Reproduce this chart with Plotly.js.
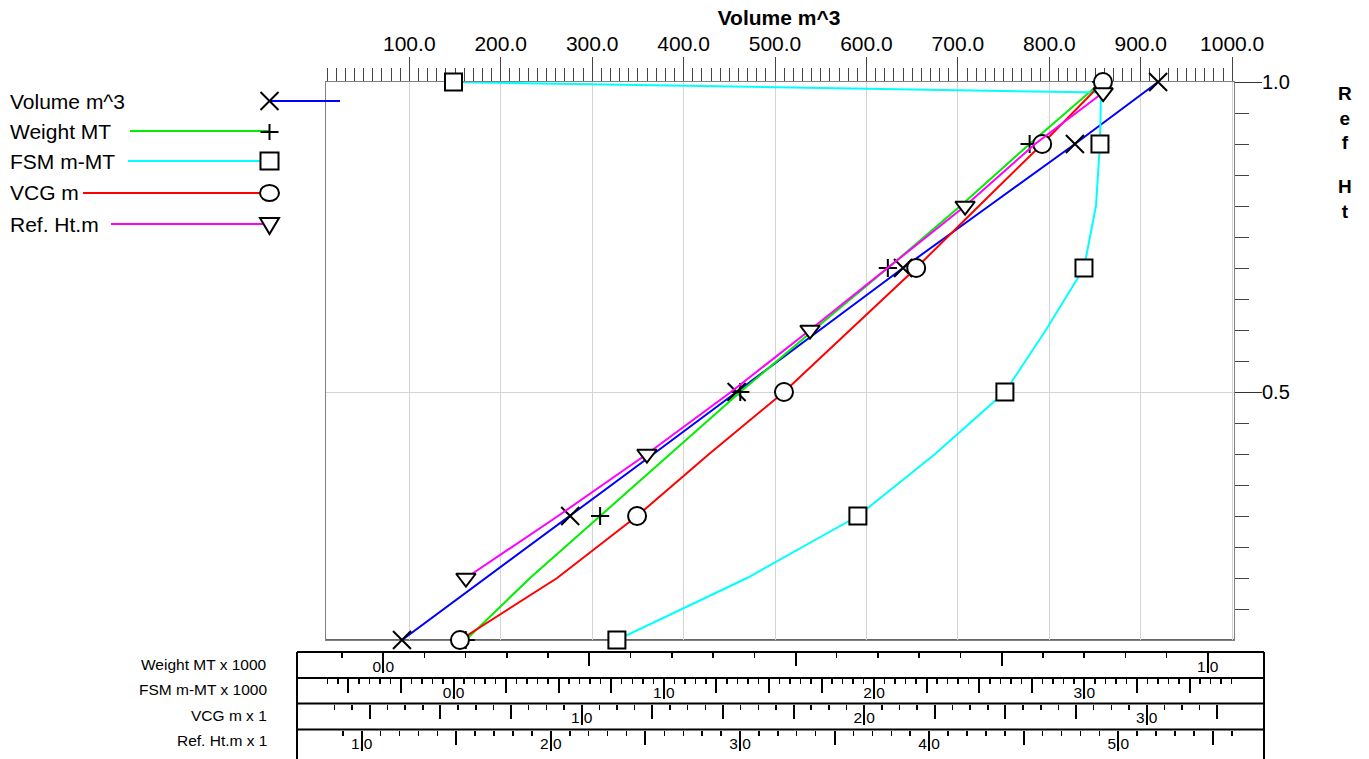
<!DOCTYPE html>
<html>
<head>
<meta charset="utf-8">
<script src="https://cdn.plot.ly/plotly-3.0.1.min.js"></script>
<style>
html,body{margin:0;padding:0;background:#fff;}
#chart{width:1369px;height:759px;}
</style>
</head>
<body>
<div id="chart"></div>
<script>
// ---------------- data ----------------
const seriesNames = ['Volume m^3', 'Weight MT', 'FSM m-MT', 'VCG m', 'Ref. Ht.m'];
const scaleNames = ['Weight MT x 1000', 'FSM m-MT x 1000', 'VCG m x 1', 'Ref. Ht.m x 1'];
const titleText = 'Volume m^3';
const yTitleTop = 'R<br>e<br>f';
const yTitleBottom = 'H<br>t';

// Ref Ht fraction (vertical axis)
const levels = [0.1, 0.2, 0.3, 0.4, 0.5, 0.6, 0.7, 0.8, 0.9, 1.0];
const fsmLevels = [0.1, 0.2, 0.3, 0.4, 0.5, 0.6, 0.7, 0.8, 0.9, 0.983, 1.0];
const refLevels = [0.2, 0.3, 0.4, 0.5, 0.6, 0.7, 0.8, 0.9, 0.983];

// series values in the units of their own scales
const volume = [92, 184, 276, 367, 458, 549, 640, 734, 828, 919];             // m^3
const weight = [0.100, 0.178, 0.263, 0.348, 0.433, 0.522, 0.612, 0.700, 0.784, 0.871]; // MT x 1000
const fsm    = [0.777, 1.396, 1.923, 2.290, 2.622, 2.817, 2.998, 3.055, 3.074, 3.079, 0.0]; // m-MT x 1000
const vcg    = [0.569, 0.913, 1.196, 1.451, 1.716, 1.950, 2.184, 2.406, 2.630, 2.845]; // m
const refHt  = [1.551, 2.038, 2.508, 2.952, 3.370, 3.777, 4.190, 4.560, 4.920]; // m

// ---------------- layout helpers ----------------
const W = 1369, H = 759;
const FONT = 'Liberation Sans, Arial, Helvetica, sans-serif';
const px = x => x / W;
const py = y => 1 - y / H;

const plotL = 326, plotR = 1234, plotT = 82, plotB = 640;

const series = [
  {name: seriesNames[0], x: volume, y: levels,    axis: 'x',  color: '#0000ff', symbol: 'x-thin',        size: 18, fill: '#000'},
  {name: seriesNames[1], x: weight, y: levels,    axis: 'x2', color: '#00ee00', symbol: 'cross-thin',    size: 13, fill: '#000'},
  {name: seriesNames[2], x: fsm,    y: fsmLevels, axis: 'x3', color: '#00ffff', symbol: 'square',        size: 17, fill: '#fff'},
  {name: seriesNames[3], x: vcg,    y: levels,    axis: 'x4', color: '#ff0000', symbol: 'circle',        size: 18, fill: '#fff'},
  {name: seriesNames[4], x: refHt,  y: refLevels, axis: 'x5', color: '#ff00ff', symbol: 'triangle-down', size: 17, fill: '#fff'}
];

const keep = (arr) => arr.filter((_, i) => i % 2 === 0 || i === arr.length - 1);

const traces = [];
series.forEach(s => traces.push({
  type: 'scatter', mode: 'lines', name: s.name, x: s.x, y: s.y,
  xaxis: s.axis, yaxis: 'y', line: {color: s.color, width: 2},
  showlegend: false, hoverinfo: 'skip'
}));
series.forEach(s => traces.push({
  type: 'scatter', mode: 'markers', name: s.name, x: keep(s.x), y: keep(s.y),
  xaxis: s.axis, yaxis: 'y', cliponaxis: false,
  marker: {symbol: s.symbol, size: s.size, color: s.fill, line: {color: '#000', width: 2}},
  showlegend: false, hoverinfo: 'skip'
}));
['x6', 'x7', 'x8', 'x9'].forEach(a => traces.push({
  type: 'scatter', mode: 'markers', x: [], y: [], xaxis: a, yaxis: 'y',
  showlegend: false, hoverinfo: 'skip'
}));

// y minor ticks every 0.05
const yMinor = [];
for (let k = 3; k <= 19; k++) { if (k !== 10) yMinor.push(+(k * 0.05).toFixed(2)); }

const layout = {
  width: W, height: H,
  margin: {l: 0, r: 0, t: 0, b: 0},
  paper_bgcolor: '#fff', plot_bgcolor: '#fff',
  font: {family: FONT, color: '#000'},
  showlegend: false,
  title: {text: '<b>' + titleText + '</b>', x: px(779), xanchor: 'center', xref: 'paper',
          y: py(18), yanchor: 'middle', yref: 'paper', font: {size: 21, family: FONT, color: '#000'}},
  xaxis: {
    domain: [px(plotL), px(plotR)], range: [8.9, 1002], side: 'top', anchor: 'y',
    tickmode: 'linear', tick0: 0, dtick: 100, tickformat: '.1f',
    ticks: 'outside', ticklen: 24, tickwidth: 1, tickcolor: '#444',
    minor: {tick0: 0, dtick: 10, ticks: 'outside', ticklen: 13, tickwidth: 1, tickcolor: '#444', showgrid: false},
    tickfont: {size: 21, color: '#000'}, ticklabelstandoff: -2,
    showgrid: true, gridcolor: '#d4d4d4', gridwidth: 1,
    showline: true, linecolor: '#808080', linewidth: 1, mirror: true,
    zeroline: false, layer: 'below traces', automargin: false, fixedrange: true
  },
  yaxis: {
    domain: [py(plotB), py(plotT)], range: [0.1, 1.0], side: 'right', anchor: 'x',
    tickmode: 'linear', tick0: 0, dtick: 0.5, tickformat: '.1f',
    ticks: 'outside', ticklen: 27, tickwidth: 1, tickcolor: '#333',
    minor: {tickmode: 'array', tickvals: yMinor, ticks: 'outside', ticklen: 14, tickwidth: 1, tickcolor: '#444', showgrid: false},
    tickfont: {size: 20, color: '#000'}, ticklabelstandoff: -4,
    showgrid: true, gridcolor: '#d4d4d4', gridwidth: 1,
    showline: true, linecolor: '#808080', linewidth: 1, mirror: true,
    zeroline: false, layer: 'below traces', automargin: false, fixedrange: true
  },
  shapes: [],
  annotations: []
};

// bottom scale strips (each an x axis overlaying the main one)
const strips = [
  {axis: 'xaxis2', label: 'xaxis6', range: [-0.0695, 1.0319], major: 0.25, minor: 0.05,   top: 652,   majorLen: 13, textY: 664},
  {axis: 'xaxis3', label: 'xaxis7', range: [-0.6063, 3.7114], major: 0.25, minor: 0.05,   top: 678,   majorLen: 14, textY: 689},
  {axis: 'xaxis4', label: 'xaxis8', range: [0.0949, 3.3090],  major: 0.25, minor: 0.0625, top: 703.5, majorLen: 14, textY: 715},
  {axis: 'xaxis5', label: 'xaxis9', range: [0.8113, 5.6117],  major: 0.5,  minor: 0.1,    top: 729.5, majorLen: 14, textY: 740}
];
strips.forEach((s, i) => {
  layout[s.axis] = {
    overlaying: 'x', anchor: 'free', position: py(s.top), side: 'bottom', range: s.range,
    tickmode: 'linear', tick0: 0, dtick: s.major, ticks: 'outside', ticklen: s.majorLen,
    tickwidth: 2, tickcolor: '#000', showticklabels: false,
    minor: {tick0: 0, dtick: s.minor, ticks: 'outside', ticklen: 5, tickwidth: 1.5, tickcolor: '#000', showgrid: false},
    showgrid: false, showline: false, zeroline: false, automargin: false, fixedrange: true
  };
  layout[s.label] = {
    overlaying: 'x', anchor: 'free', position: py(s.top), side: 'bottom', range: s.range,
    tickmode: 'linear', tick0: 0, dtick: 1, tickformat: '.1f', ticks: 'outside', ticklen: 20,
    tickwidth: 2, tickcolor: '#000', tickfont: {size: 15.5, color: '#000'},
    ticklabelstandoff: -20,
    showgrid: false, showline: false, zeroline: false, automargin: false, fixedrange: true
  };
  layout.annotations.push({
    xref: 'paper', yref: 'paper', x: px(269), y: py(s.textY), xanchor: 'right', yanchor: 'middle',
    text: scaleNames[i], showarrow: false, font: {size: 15.5, family: FONT, color: '#000'}
  });
  layout.shapes.push({type: 'line', xref: 'paper', yref: 'paper', x0: px(297), x1: px(1264), y0: py(s.top), y1: py(s.top),
                      line: {color: '#000', width: 2}});
});
layout.shapes.push({type: 'line', xref: 'paper', yref: 'paper', x0: px(297), x1: px(297), y0: py(652), y1: py(759), line: {color: '#000', width: 2}});
layout.shapes.push({type: 'line', xref: 'paper', yref: 'paper', x0: px(1264), x1: px(1264), y0: py(652), y1: py(759), line: {color: '#000', width: 2}});
// darker bottom frame of the main plot
layout.shapes.push({type: 'line', xref: 'paper', yref: 'paper', x0: px(plotL), x1: px(plotR), y0: py(plotB), y1: py(plotB), line: {color: '#333', width: 1.5}, layer: 'below'});

// vertical axis title (stacked letters)
layout.annotations.push({xref: 'paper', yref: 'paper', x: px(1345), y: py(118), xanchor: 'center', yanchor: 'middle',
  text: '<b>' + yTitleTop + '</b>', showarrow: false, font: {size: 19, family: FONT, color: '#000'}});
layout.annotations.push({xref: 'paper', yref: 'paper', x: px(1345), y: py(199), xanchor: 'center', yanchor: 'middle',
  text: '<b>' + yTitleBottom + '</b>', showarrow: false, font: {size: 19, family: FONT, color: '#000'}});

// custom legend: text, then line, then marker at the right end
const legendRows = [
  {y: 101, lineFrom: 340}, {y: 131, lineFrom: 130}, {y: 161, lineFrom: 128}, {y: 193, lineFrom: 83}, {y: 224, lineFrom: 111}
];
const mx = 269.5, mr = 9;
const black = {color: '#000', width: 2};
legendRows.forEach((r, i) => {
  layout.annotations.push({xref: 'paper', yref: 'paper', x: px(8), y: py(r.y), xanchor: 'left', yanchor: 'middle',
    text: seriesNames[i], showarrow: false, font: {size: 21, family: FONT, color: '#000'}});
  layout.shapes.push({type: 'line', xref: 'paper', yref: 'paper', x0: px(r.lineFrom), x1: px(mx), y0: py(r.y), y1: py(r.y),
    line: {color: series[i].color, width: 2}});
});
// legend symbols
let y0 = legendRows[0].y;
layout.shapes.push({type: 'line', xref: 'paper', yref: 'paper', x0: px(mx - mr), x1: px(mx + mr), y0: py(y0 - mr), y1: py(y0 + mr), line: black});
layout.shapes.push({type: 'line', xref: 'paper', yref: 'paper', x0: px(mx - mr), x1: px(mx + mr), y0: py(y0 + mr), y1: py(y0 - mr), line: black});
y0 = legendRows[1].y + 1;
layout.shapes.push({type: 'line', xref: 'paper', yref: 'paper', x0: px(mx - 9), x1: px(mx + 9), y0: py(y0), y1: py(y0), line: black});
layout.shapes.push({type: 'line', xref: 'paper', yref: 'paper', x0: px(mx), x1: px(mx), y0: py(y0 - 8), y1: py(y0 + 8), line: black});
y0 = legendRows[2].y;
layout.shapes.push({type: 'rect', xref: 'paper', yref: 'paper', x0: px(mx - 9), x1: px(mx + 9), y0: py(y0 - 8.5), y1: py(y0 + 8.5), line: black, fillcolor: '#fff'});
y0 = legendRows[3].y;
layout.shapes.push({type: 'circle', xref: 'paper', yref: 'paper', x0: px(mx - 9.5), x1: px(mx + 9.5), y0: py(y0 - 8), y1: py(y0 + 8), line: black, fillcolor: '#fff'});
y0 = legendRows[4].y;
layout.shapes.push({type: 'path', xref: 'paper', yref: 'paper',
  path: 'M' + px(mx - 9.5) + ',' + py(y0 - 6) + ' L' + px(mx + 9.5) + ',' + py(y0 - 6) + ' L' + px(mx) + ',' + py(y0 + 10) + ' Z',
  line: black, fillcolor: '#fff'});

Plotly.newPlot('chart', traces, layout, {staticPlot: true, displayModeBar: false});
</script>
</body>
</html>
